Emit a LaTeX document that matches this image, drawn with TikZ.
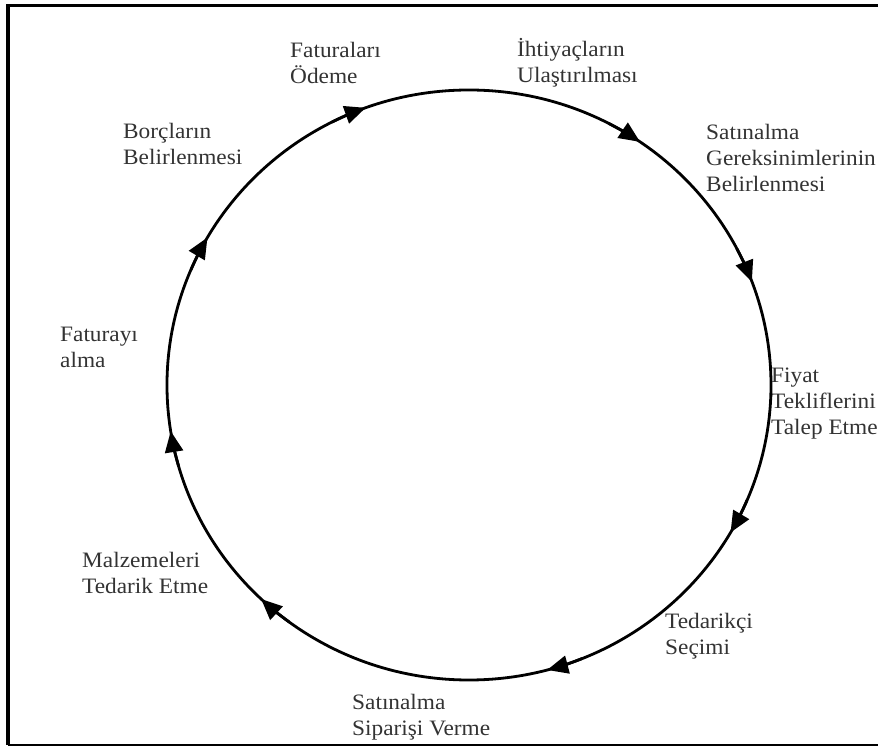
\documentclass[tikz,border=0pt]{standalone}
\usepackage{fontspec}
\setmainfont[FakeStretch=1.06]{Liberation Serif}
\usetikzlibrary{arrows.meta}

\begin{document}
\begin{tikzpicture}
    [x=1pt, y=1pt, >={Triangle[length=21pt,width=18pt]},
     ring/.style={line width=2.8pt, x radius=302pt, y radius=295pt},
     phase/.style={align=left, anchor=base west, inner sep=0pt, text=black!80,
        font=\fontsize{22pt}{26pt}\selectfont}]
\useasboundingbox (-469,-361) rectangle (409,385);

% frame
\draw[line width=3.5pt] (409,379.5) -- (-461,379.5) -- (-461,-360);
\draw[line width=2pt] (-461,-360) -- (409,-360);

% stages (placed at the baseline of their last line)
\node[phase](odeme) at (-179,301) {Faturaları\\Ödeme};
\node[phase](ihtiyac) at (48,302) {İhtiyaçların\\Ulaştırılması};
\node[phase](gereksinim) at (237,193) {Satınalma\\Gereksinimlerinin\\Belirlenmesi};
\node[phase](fiyat) at (302,-50) {Fiyat\\Tekliflerini\\Talep Etme};
\node[phase](tedarikci) at (196,-269) {Tedarikçi\\Seçimi};
\node[phase](siparis) at (-117,-350) {Satınalma\\Siparişi Verme};
\node[phase](malzeme) at (-387,-208) {Malzemeleri\\Tedarik Etme};
\node[phase](fatura) at (-409,17) {Faturayı\\alma};
\node[phase](borc) at (-346,220) {Borçların\\Belirlenmesi};

% cycle, with a tip every step
\draw[ring] (0,0) ellipse[];
\draw[ring,->] (117:302pt and 295pt) arc[start angle=117, end angle=110];
\draw[ring,->] (62.5:302pt and 295pt) arc[start angle=62.5, end angle=55.5];
\draw[ring,->] (27.5:302pt and 295pt) arc[start angle=27.5, end angle=20.5];
\draw[ring,->] (-23:302pt and 295pt) arc[start angle=-23, end angle=-30];
\draw[ring,->] (-68:302pt and 295pt) arc[start angle=-68, end angle=-75];
\draw[ring,->] (-126.5:302pt and 295pt) arc[start angle=-126.5, end angle=-133.5];
\draw[ring,->] (-164:302pt and 295pt) arc[start angle=-164, end angle=-171];
\draw[ring,->] (157:302pt and 295pt) arc[start angle=157, end angle=150];
\end{tikzpicture}
\end{document}
